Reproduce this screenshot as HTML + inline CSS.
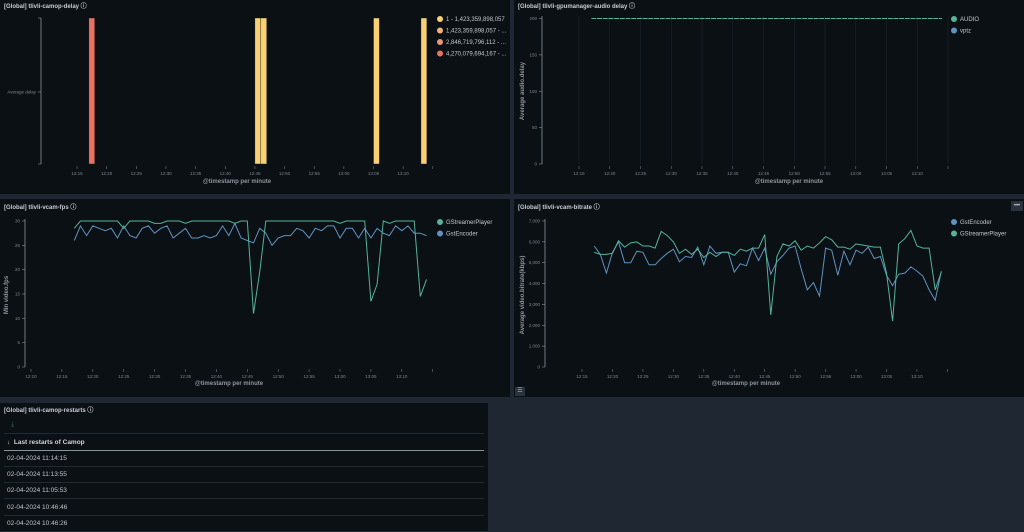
<!DOCTYPE html>
<html><head><meta charset="utf-8"><style>
body{margin:0;width:1024px;height:531px;background:#1e2732;overflow:hidden;font-family:"Liberation Sans",sans-serif;position:relative}
.panel{position:absolute;background:#0b1015}
.t{position:absolute;font-size:6px;font-weight:bold;color:#c8ccd2;white-space:nowrap}
svg{position:absolute;left:0;top:0}
svg text{font-family:"Liberation Sans",sans-serif}
.row{position:absolute;left:4px;width:480px;height:16px;border-bottom:1px solid #1f2a33;font-size:6.5px;color:#c0c5cc;line-height:16px;padding-left:3px;box-sizing:border-box}
</style></head><body>
<div class="panel" style="left:0;top:0;width:510px;height:194px"></div>
<div class="panel" style="left:514px;top:0;width:510px;height:194px"></div>
<div class="panel" style="left:0;top:199px;width:510px;height:198px"></div>
<div class="panel" style="left:514px;top:199px;width:510px;height:198px"></div>
<div class="panel" style="left:0;top:403px;width:488px;height:128px"></div>
<div class="t" style="left:4px;top:1px">[Global] tlivli-camop-delay ⓘ</div>
<div class="t" style="left:518px;top:1px">[Global] tlivli-gpumanager-audio delay ⓘ</div>
<div class="t" style="left:4px;top:202px">[Global] tlivli-vcam-fps ⓘ</div>
<div class="t" style="left:518px;top:202px">[Global] tlivli-vcam-bitrate ⓘ</div>
<div class="t" style="left:4px;top:405px">[Global] tlivli-camop-restarts ⓘ</div>
<div style="position:absolute;left:1011px;top:201px;width:12px;height:10px;background:#2a333d;color:#ccc;font-size:6px;text-align:center;line-height:10px">•••</div>
<div style="position:absolute;left:515px;top:387px;width:10px;height:9px;background:#2a333d;color:#aaa;font-size:6px;text-align:center;line-height:9px">☰</div>
<div style="position:absolute;left:11px;top:421px;color:#2f6f5a;font-size:7px">⤓</div>
<div style="position:absolute;left:4px;top:433px;width:480px;height:1px;background:#1f2a33"></div>
<div style="position:absolute;left:4px;top:435px;width:480px;height:16px;border-bottom:1px solid #8a939c;font-size:6.5px;font-weight:bold;color:#d0d4da;line-height:15px;padding-left:3px;box-sizing:border-box">↓&nbsp; Last restarts of Camop</div>
<div class="row" style="top:451px">02-04-2024 11:14:15</div>
<div class="row" style="top:467px">02-04-2024 11:13:55</div>
<div class="row" style="top:483px">02-04-2024 11:05:53</div>
<div class="row" style="top:500px">02-04-2024 10:46:46</div>
<div class="row" style="top:516px">02-04-2024 10:46:26</div>
<svg id="s" width="1024" height="531"></svg>
<script>
// Chart 1: camop delay bars (minute offset from 12:00, bin index)
const delayMinutes=[17,45,46,65,73];
const delayBins=[3,0,0,0,0];
const delayLegend=["1 - 1,423,359,898,057","1,423,359,898,057 - ...","2,846,719,796,112 - ...","4,270,079,694,167 - ..."];
const delayColors=["#f9d172","#f0b277","#e9977a","#e8725f"];
// Chart 2: audio delay
const audioStart=17, audioEnd=74, audioValue=200;
const audioTicks=[0,50,100,150,200];
// Chart 3: fps
const fpsStart=17;
const fpsPlayer=[28.5,30,30,30,30,30,30,30,28.5,30,30,30,30,29.5,29.5,30,30,30,29.5,30,30,30,30,30,30,30,29.5,30,30,11,19.5,30,30,30,30,30,30,30,30,30,30,30,30,29.5,30,30,30,30,13.5,17,30,29.5,30,30,30,30,14.5,18];
const fpsEncoder=[26,29,27,29,28.5,28,28.5,26.5,29,27,26.5,28.5,29,27.5,28.5,29,26.5,27.5,28.5,26.5,26.5,27,26.5,27,29,27,29.5,26.5,26,25.5,28.5,27.5,25,26.5,27,27,28.5,28,26.5,28.5,28,29,29,26.5,28.5,28.5,26.5,28.5,26.5,28.5,27.5,27,29,28,29,27.5,27.5,27];
const fpsTicks=[0,5,10,15,20,25,30];
// Chart 4: bitrate
const brStart=17;
const brEncoder=[5800,5400,4500,5500,6000,5000,5000,5550,5500,4900,4900,5200,5450,5650,5050,5300,5250,5750,4900,5800,5450,5500,5500,4550,4950,4850,5700,5100,5700,4450,5050,5350,5700,5800,4700,3700,4050,3400,5700,5600,4400,5550,4900,5600,5450,5750,5200,5300,4400,3900,4450,4500,4800,4600,4350,3700,3200,4600];
const brPlayer=[5500,5400,5400,5450,6050,5750,5950,6000,5800,5800,5700,6500,6300,6000,5450,5650,5400,5650,5250,5500,5300,5500,5500,5350,5650,5550,5700,5700,6350,2500,5300,5900,5800,6050,5600,5800,5700,5950,6250,6100,5750,5750,5650,5900,5850,5800,5750,5750,4500,2200,5900,6150,6550,5800,5700,5700,3700,4550];
const brTicks=[0,1000,2000,3000,4000,5000,6000,7000];
const timeLabels=["12:10","12:15","12:20","12:25","12:30","12:35","12:40","12:45","12:50","12:55","13:00","13:05","13:10"];

const s=document.getElementById('s');
function el(tag,attrs,txt){const e=document.createElementNS('http://www.w3.org/2000/svg',tag);for(const k in attrs)e.setAttribute(k,attrs[k]);if(txt!==undefined)e.textContent=txt;s.appendChild(e);return e;}
function xAxis(xs,y,firstLbl,grid,gTop){
  for(let m=firstLbl;m<=75;m+=5){const x=xs(m);
    const tk=el('line',{x1:x,x2:x,y1:y+2,y2:y+5,stroke:'#6b737c','stroke-width':0.6});
    
    if(grid){el('line',{x1:x,x2:x,y1:gTop,y2:y,stroke:'#1c242c','stroke-width':0.6});}
    const li=(m-10)/5;if(li>=0&&li<timeLabels.length&&m<75){const t=el('text',{x:x,y:y+11,'font-size':4.5,fill:'#7d858e','text-anchor':'middle'},timeLabels[li]);
      }
  }
}
function yAxis(ax,ys,ticks,y0,y1,fmt){
  const a=el('line',{x1:ax,x2:ax,y1:y1,y2:y0,stroke:'#8a929a','stroke-width':0.8});
  
  ticks.forEach(v=>{const y=ys(v);el('line',{x1:ax-3,x2:ax,y1:y,y2:y,stroke:'#8a929a','stroke-width':0.6});
    const t=el('text',{x:ax-5,y:y+1.5,'font-size':4.5,fill:'#7d858e','text-anchor':'end'},fmt?fmt(v):v);
    });
}
function label(x,y,txt,rot,name){const t=el('text',{x:x,y:y,'font-size':6,'font-weight':'bold',fill:'#8d959e','text-anchor':'middle',transform:rot?`rotate(-90 ${x} ${y})`:''},txt);
  }
function legend(x,y,names,colors){names.forEach((n,i)=>{const c=el('circle',{cx:x,cy:y+i*11.5,r:3,fill:colors[i]});
  
  const t=el('text',{x:x+6,y:y+i*11.5+2,'font-size':6,fill:'#c3c8ce'},n);
  });}
function line(xs,ys,start,vals,color,name){const p=vals.map((v,i)=>xs(start+i).toFixed(1)+','+ys(v).toFixed(1)).join(' ');
  const l=el('polyline',{points:p,fill:'none',stroke:color,'stroke-width':1});
  }

// Chart 1
{const xs=m=>77+(m-15)*5.93;const top=18,bot=164;
 el('line',{x1:41,x2:41,y1:top,y2:bot,stroke:'#8a929a','stroke-width':0.8});
 el('line',{x1:38,x2:41,y1:top,y2:top,stroke:'#8a929a','stroke-width':0.6});el('line',{x1:38,x2:41,y1:bot,y2:bot,stroke:'#8a929a','stroke-width':0.6});
 el('line',{x1:38,x2:41,y1:92,y2:92,stroke:'#8a929a','stroke-width':0.6});
 const yl=el('text',{x:36,y:93.5,'font-size':4.5,fill:'#7d858e','text-anchor':'end'},'Average delay');
 
 delayMinutes.forEach((m,i)=>{const b=el('rect',{x:xs(m),y:top,width:5.93,height:bot-top,fill:delayColors[delayBins[i]],stroke:'#0b1015','stroke-width':0.4});
   });
 xAxis(xs,bot,15,false);
 label(237,183,'@timestamp per minute',false,'x-axis-title');
 legend(440,19,delayLegend,delayColors);}
// Chart 2
{const xs=m=>579+(m-15)*6.15;const ys=v=>164-v/200*145.5;
 xAxis(xs,164,15,true,16);yAxis(542,ys,audioTicks,164,16);
 const l=el('line',{x1:xs(audioStart),x2:xs(audioEnd),y1:ys(audioValue),y2:ys(audioValue),stroke:'#54b399','stroke-width':1,'stroke-dasharray':'5 0.7'});
 
 label(789,183,'@timestamp per minute',false,'x-axis-title');
 label(524,91,'Average audio.delay',true,'y-axis-title');
 legend(954,19,['AUDIO','vptz'],['#54b399','#6092c0']);}
// Chart 3
{const xs=m=>31+(m-10)*6.18;const ys=v=>367-v/30*146;
 xAxis(xs,367,10,false);yAxis(25,ys,fpsTicks,367,219);
 line(xs,ys,fpsStart,fpsEncoder,'#6092c0','gstencoder-fps-line');
 line(xs,ys,fpsStart,fpsPlayer,'#54b399','gstreamerplayer-fps-line');
 label(229,385,'@timestamp per minute',false,'x-axis-title');
 label(8,295,'Min video.fps',true,'y-axis-title');
 legend(440,222,['GStreamerPlayer','GstEncoder'],['#54b399','#6092c0']);}
// Chart 4
{const xs=m=>582+(m-15)*6.09;const ys=v=>367-v/7000*146;
 xAxis(xs,367,15,false);yAxis(545,ys,brTicks,367,219,v=>v.toLocaleString('en-US'));
 line(xs,ys,brStart,brEncoder,'#6092c0','gstencoder-bitrate-line');
 line(xs,ys,brStart,brPlayer,'#54b399','gstreamerplayer-bitrate-line');
 label(746,385,'@timestamp per minute',false,'x-axis-title');
 label(524,295,'Average video.bitrate(kbps)',true,'y-axis-title');
 legend(954,222,['GstEncoder','GStreamerPlayer'],['#6092c0','#54b399']);}
</script>
</body></html>
